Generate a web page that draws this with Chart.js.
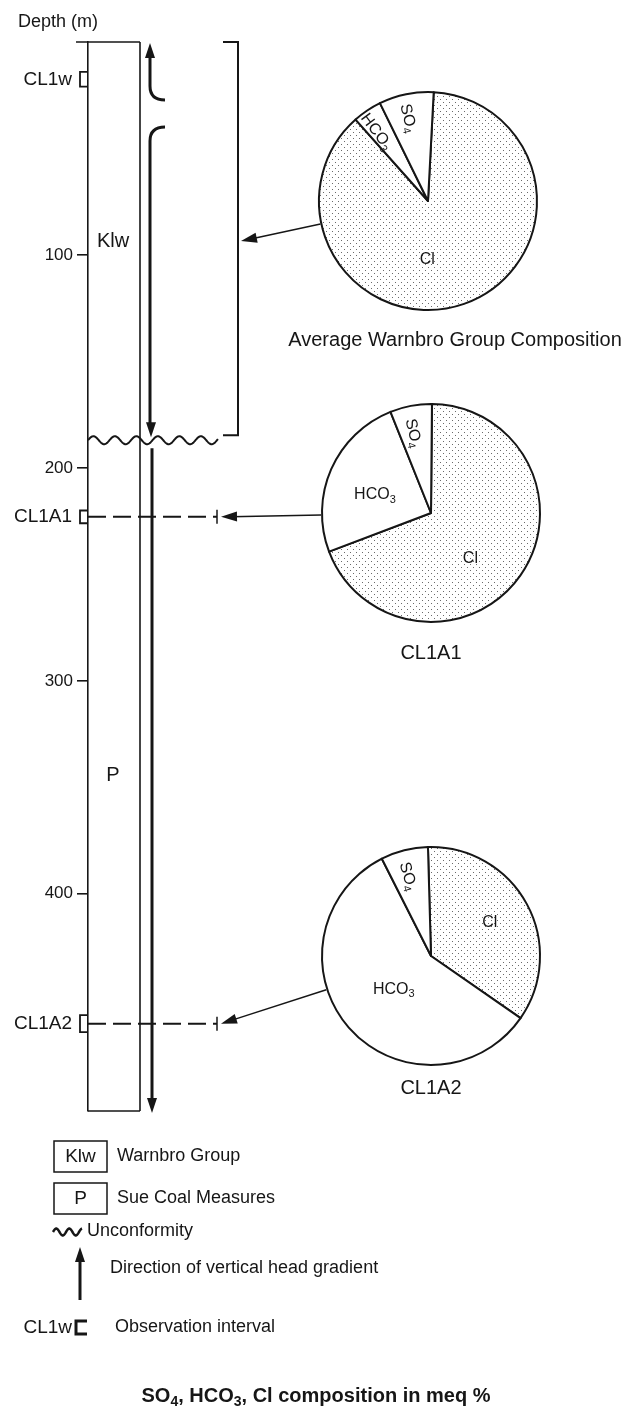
<!DOCTYPE html>
<html>
<head>
<meta charset="utf-8">
<script src="https://cdn.jsdelivr.net/npm/chart.js@4.4.1/dist/chart.umd.min.js"></script>
<style>
  html, body { margin: 0; padding: 0; background: #fff; }
  #wrap { position: relative; width: 632px; height: 1407px; overflow: hidden; }
  #log { position: absolute; left: 0; top: 0; }
  .pie { position: absolute; }
</style>
</head>
<body>
<div id="wrap">
  <canvas id="log" width="632" height="1407"></canvas>
  <canvas id="pie0" class="pie" width="240" height="240"></canvas>
  <canvas id="pie1" class="pie" width="240" height="240"></canvas>
  <canvas id="pie2" class="pie" width="240" height="240"></canvas>
</div>
<script>
// ---- data -------------------------------------------------------------
const ions = ['Cl', 'HCO3', 'SO4'];               // meq % of the three anions
const warnbroAverage = [87.6, 4.3, 8.1];
const cl1a1 = [69.1, 24.7, 6.2];
const cl1a2 = [35.1, 57.9, 7.0];
const pieTitles = ['Average Warnbro Group Composition', 'CL1A1', 'CL1A2'];

const depthTicks = [100, 200, 300, 400];           // m
const holeBase = 502;                              // m
const unitNames = ['Klw', 'P'];
const unitTop = [0, 187];
const unitBase = [187, 502];
const unconformityDepth = 187;

const obsNames = ['CL1w', 'CL1A1', 'CL1A2'];
const obsTop = [14, 220, 457];
const obsBase = [21, 226, 465];

// ---- styling / layout ------------------------------------------------
const INK = '#161616';
const FAMILY = '"Liberation Sans", "Helvetica Neue", Arial, sans-serif';
const pieCenters = [[428, 201], [431, 513], [431, 956]];
const pieRadius = 109;
const pieRotation = [3, 0.5, -1.6];
const pieTitleAt = [[455, 340], [431, 653], [431, 1088]];
// label placement per slice: [fraction of radius, angular shift in degrees]
const pieLabelPlace = [
  [[0.54, 20], [0.79, -3], [0.78, -2]],
  [[0.55, 14], [0.54, -6], [0.75, -2]],
  [[0.62, -1], [0.46, -1], [0.76, -2]]
];

function runsOf(text) {
  const runs = [];
  let prev = '';
  for (const ch of text) {
    const sub = /\d/.test(ch) && /[A-Za-z]/.test(prev);
    const last = runs[runs.length - 1];
    if (last && last.sub === sub) last.t += ch; else runs.push({ t: ch, sub });
    prev = ch;
  }
  return runs;
}

function drawText(ctx, text, x, y, size, o = {}) {
  const runs = o.chem ? runsOf(text) : [{ t: text, sub: false }];
  const weight = o.bold ? '700 ' : '400 ';
  const fontFor = r => weight + (r.sub ? Math.round(size * 0.68) : size) + 'px ' + FAMILY;
  ctx.save();
  ctx.translate(x, y);
  if (o.rot) ctx.rotate(o.rot);
  ctx.fillStyle = INK;
  ctx.textBaseline = 'middle';
  ctx.textAlign = 'left';
  let total = 0;
  const widths = runs.map(r => { ctx.font = fontFor(r); const w = ctx.measureText(r.t).width; total += w; return w; });
  let cx = o.align === 'right' ? -total : (o.align === 'center' ? -total / 2 : 0);
  runs.forEach((r, i) => {
    ctx.font = fontFor(r);
    ctx.fillText(r.t, cx, r.sub ? size * 0.3 : 0);
    cx += widths[i];
  });
  ctx.restore();
}

function seg(ctx, x1, y1, x2, y2) {
  ctx.beginPath(); ctx.moveTo(x1, y1); ctx.lineTo(x2, y2); ctx.stroke();
}

function head(ctx, tx, ty, fx, fy, len = 15, half = 5) {
  // filled arrowhead with its tip at (tx, ty), pointing away from (fx, fy)
  const a = Math.atan2(ty - fy, tx - fx);
  ctx.beginPath();
  ctx.moveTo(tx, ty);
  ctx.lineTo(tx - len * Math.cos(a) + half * Math.sin(a), ty - len * Math.sin(a) - half * Math.cos(a));
  ctx.lineTo(tx - len * Math.cos(a) - half * Math.sin(a), ty - len * Math.sin(a) + half * Math.cos(a));
  ctx.closePath();
  ctx.fill();
}

function wave(ctx, x0, x1, y, amp, period) {
  ctx.beginPath();
  for (let x = x0; x <= x1; x += 0.5) {
    const yy = y - amp * Math.sin((x - x0) / period * 2 * Math.PI);
    if (x === x0) ctx.moveTo(x, yy); else ctx.lineTo(x, yy);
  }
  ctx.stroke();
}

// ---- borehole log, arrows, legend ------------------------------------
const logDecor = {
  id: 'logDecor',
  afterDraw(chart) {
    const ctx = chart.ctx;
    const ys = chart.scales.y;
    const y = v => ys.getPixelForValue(v);
    const colL = chart.chartArea.left;
    const colR = colL + 52;
    const yTop = y(0), yBase = y(holeBase), yU = y(unconformityDepth);
    ctx.save();
    ctx.strokeStyle = INK; ctx.fillStyle = INK;

    // column outline
    ctx.lineWidth = 1.6;
    seg(ctx, colL - 12, yTop, colR, yTop);
    seg(ctx, colR, yTop, colR, yBase);
    seg(ctx, colL, yBase, colR, yBase);

    // unit labels
    unitNames.forEach((n, i) => drawText(ctx, n, colL + 25, y((unitTop[i] + unitBase[i]) / 2), 20, { align: 'center' }));

    // direction of vertical head gradient
    const ax = colR + 10;
    ctx.lineWidth = 3;
    ctx.beginPath();
    ctx.moveTo(ax, yTop + 12); ctx.lineTo(ax, yTop + 44);
    ctx.quadraticCurveTo(ax, yTop + 58, ax + 15, yTop + 58);
    ctx.stroke();
    head(ctx, ax, yTop + 1, ax, yTop + 30, 15, 5);
    ctx.beginPath();
    ctx.moveTo(ax + 15, yTop + 85);
    ctx.quadraticCurveTo(ax, yTop + 85, ax, yTop + 99);
    ctx.lineTo(ax, yU - 14);
    ctx.stroke();
    head(ctx, ax + 1, yU - 3, ax + 1, yU - 40, 15, 5);
    seg(ctx, ax + 2, yU + 8, ax + 2, yBase - 12);
    head(ctx, ax + 2, yBase + 2, ax + 2, yBase - 40, 15, 5);

    // Warnbro Group bracket
    const bx = colL + 150;
    ctx.lineWidth = 2;
    ctx.beginPath();
    ctx.moveTo(bx - 15, yTop); ctx.lineTo(bx, yTop); ctx.lineTo(bx, yU - 5); ctx.lineTo(bx - 15, yU - 5);
    ctx.stroke();

    // unconformity
    ctx.lineWidth = 2;
    wave(ctx, colL, colL + 130, yU, 4, 21.5);

    // observation intervals
    const dashEnd = colL + 129;
    obsNames.forEach((n, i) => {
      const t = y(obsTop[i]), b = y(obsBase[i]), m = (t + b) / 2;
      ctx.lineWidth = 1.8;
      ctx.beginPath();
      ctx.moveTo(colL, t); ctx.lineTo(colL - 8, t); ctx.lineTo(colL - 8, b); ctx.lineTo(colL, b);
      ctx.stroke();
      drawText(ctx, n, colL - 16, m, 19, { align: 'right' });
      if (i > 0) {
        ctx.lineWidth = 2;
        ctx.setLineDash([18, 7]);
        seg(ctx, colL, m, dashEnd, m);
        ctx.setLineDash([]);
        ctx.lineWidth = 1.5;
        seg(ctx, dashEnd, m - 7, dashEnd, m + 7);
      }
    });

    // arrows from each composition to its interval
    const targets = [
      [bx + 3, y((unitTop[0] + unitBase[0]) / 2)],
      [dashEnd + 4, y((obsTop[1] + obsBase[1]) / 2)],
      [dashEnd + 4, y((obsTop[2] + obsBase[2]) / 2)]
    ];
    ctx.lineWidth = 1.5;
    pieCenters.forEach(([cx, cy], i) => {
      const [tx, ty] = targets[i];
      const d = Math.hypot(tx - cx, ty - cy);
      const sx = cx + (tx - cx) / d * (pieRadius + 1), sy = cy + (ty - cy) / d * (pieRadius + 1);
      const l = Math.hypot(sx - tx, sy - ty);
      seg(ctx, sx, sy, tx + 10 * (sx - tx) / l, ty + 10 * (sy - ty) / l);
      head(ctx, tx, ty, sx, sy, 16, 5);
    });

    // composition titles
    pieTitles.forEach((t, i) => drawText(ctx, t, pieTitleAt[i][0], pieTitleAt[i][1], 20, { align: 'center' }));

    // axis title
    drawText(ctx, 'Depth (m)', 18, 22, 18);

    // key
    ctx.lineWidth = 1.5;
    ctx.strokeRect(54, 1141, 53, 31);
    drawText(ctx, 'Klw', 80.5, 1157, 19, { align: 'center' });
    drawText(ctx, 'Warnbro Group', 117, 1156, 18);
    ctx.strokeRect(54, 1183, 53, 31);
    drawText(ctx, 'P', 80.5, 1199, 19, { align: 'center' });
    drawText(ctx, 'Sue Coal Measures', 117, 1198, 18);
    ctx.lineWidth = 2.5;
    wave(ctx, 53, 82, 1232, 3.5, 13);
    drawText(ctx, 'Unconformity', 87, 1231, 18);
    ctx.lineWidth = 3;
    seg(ctx, 80, 1260, 80, 1300);
    head(ctx, 80, 1247, 80, 1290, 15, 5);
    drawText(ctx, 'Direction of vertical head gradient', 110, 1268, 18);
    ctx.lineWidth = 3;
    ctx.beginPath();
    ctx.moveTo(87, 1321); ctx.lineTo(76, 1321); ctx.lineTo(76, 1334); ctx.lineTo(87, 1334);
    ctx.stroke();
    drawText(ctx, 'CL1w', 72, 1328, 19, { align: 'right' });
    drawText(ctx, 'Observation interval', 115, 1327, 18);

    drawText(ctx, 'SO4, HCO3, Cl composition in meq %', 316, 1396, 20, { align: 'center', bold: true, chem: true });
    ctx.restore();
  }
};

new Chart(document.getElementById('log'), {
  type: 'scatter',
  data: { datasets: [] },
  options: {
    responsive: false,
    animation: false,
    events: [],
    layout: { padding: { top: 42, bottom: 1407 - 1111, left: 0, right: 0 } },
    plugins: { legend: { display: false }, tooltip: { enabled: false } },
    scales: {
      x: { display: false, min: 0, max: 1 },
      y: {
        reverse: true,
        min: 0,
        max: holeBase,
        afterBuildTicks: s => { s.ticks = depthTicks.map(v => ({ value: v })); },
        afterFit: s => { s.width = 88; },
        grid: { drawOnChartArea: false, tickLength: 11, color: INK, lineWidth: 1.6 },
        border: { display: true, color: INK, width: 1.6 },
        ticks: { font: { family: FAMILY, size: 17 }, color: INK, padding: 4 }
      }
    }
  },
  plugins: [logDecor]
});

// ---- composition pies -------------------------------------------------
function stipple() {
  const c = document.createElement('canvas');
  c.width = 6; c.height = 6;
  const g = c.getContext('2d');
  g.fillStyle = '#fff'; g.fillRect(0, 0, 6, 6);
  g.fillStyle = '#6a6a6a';
  g.fillRect(0, 0, 1, 1); g.fillRect(3, 3, 1, 1);
  return g.createPattern(c, 'repeat');
}

const sliceLabels = {
  id: 'sliceLabels',
  afterDatasetsDraw(chart, args, opts) {
    const ctx = chart.ctx;
    chart.getDatasetMeta(0).data.forEach((arc, i) => {
      const p = arc.getProps(['x', 'y', 'startAngle', 'endAngle', 'outerRadius'], true);
      const [frac, shift] = opts.place[i];
      const span = p.endAngle - p.startAngle;
      const mid = (p.startAngle + p.endAngle) / 2 + shift * Math.PI / 180;
      const lx = p.x + Math.cos(mid) * p.outerRadius * frac;
      const ly = p.y + Math.sin(mid) * p.outerRadius * frac;
      const rot = span < Math.PI / 4 ? mid + Math.PI : 0;
      drawText(ctx, chart.data.labels[i], lx, ly, 16, { align: 'center', chem: true, rot });
    });
  }
};

[warnbroAverage, cl1a1, cl1a2].forEach((values, k) => {
  const el = document.getElementById('pie' + k);
  el.style.left = (pieCenters[k][0] - 120) + 'px';
  el.style.top = (pieCenters[k][1] - 120) + 'px';
  new Chart(el, {
    type: 'pie',
    data: {
      labels: ions,
      datasets: [{
        data: values,
        backgroundColor: [stipple(), '#fff', '#fff'],
        borderColor: INK,
        borderWidth: 2,
        borderJoinStyle: 'round',
        radius: pieRadius
      }]
    },
    options: {
      responsive: false,
      animation: false,
      events: [],
      rotation: pieRotation[k],
      layout: { padding: 0 },
      plugins: {
        legend: { display: false },
        tooltip: { enabled: false },
        sliceLabels: { place: pieLabelPlace[k] }
      }
    },
    plugins: [sliceLabels]
  });
});
</script>
</body>
</html>
